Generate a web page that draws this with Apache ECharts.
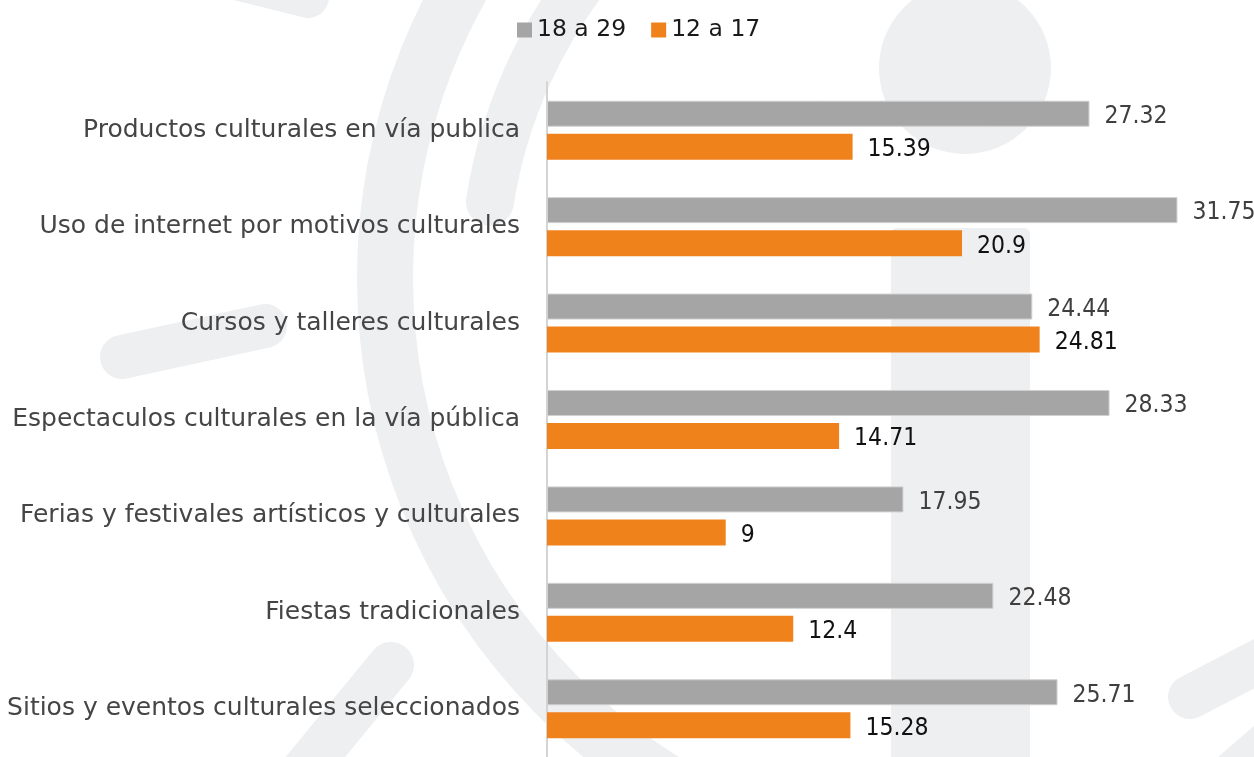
<!DOCTYPE html>
<html>
<head>
<meta charset="utf-8">
<title>Participación cultural por grupo de edad</title>
<script src="https://cdn.jsdelivr.net/npm/echarts@6/dist/echarts.min.js"></script>
<style>
  html, body { margin: 0; padding: 0; background: #ffffff; }
  #chart { width: 1254px; height: 757px; }
</style>
</head>
<body>
<div id="chart"></div>
<script>
// Categories, top to bottom
const categories = [
  'Productos culturales en vía publica',
  'Uso de internet por motivos culturales',
  'Cursos y talleres culturales',
  'Espectaculos culturales en la vía pública',
  'Ferias y festivales artísticos y culturales',
  'Fiestas tradicionales',
  'Sitios y eventos culturales seleccionados'
];

const seriesNames = ['18 a 29', '12 a 17'];

// Values for each age group, same order as categories
const valuesAdults = [27.32, 31.75, 24.44, 28.33, 17.95, 22.48, 25.71];
const valuesTeens  = [15.39, 20.9, 24.81, 14.71, 9, 12.4, 15.28];

const TEXT_FONT = '"DejaVu Sans", "Noto Sans", sans-serif';
const NUM_FONT = '"DejaVu Sans Condensed", Roboto, sans-serif';
const WATERMARK = '#eeeff1';

const chart = echarts.init(document.getElementById('chart'), null, { renderer: 'canvas' });

// Decorative light-grey emblem drawn behind the plot
const backdrop = [
  // large outer arc
  { type: 'circle', z: -10, silent: true,
    shape: { cx: 977, cy: 278, r: 592 },
    style: { fill: null, stroke: WATERMARK, lineWidth: 56 } },
  // inner arc with rounded end
  { type: 'arc', z: -10, silent: true,
    shape: { cx: 977, cy: 278, r: 493, startAngle: 3.297, endAngle: 4.4, clockwise: true },
    style: { fill: null, stroke: WATERMARK, lineWidth: 48, lineCap: 'round' } },
  // circle, top right
  { type: 'circle', z: -10, silent: true,
    shape: { cx: 965, cy: 68, r: 86 },
    style: { fill: WATERMARK } },
  // vertical bar
  { type: 'rect', z: -10, silent: true,
    shape: { x: 891, y: 228, width: 139, height: 600, r: [6, 6, 0, 70] },
    style: { fill: WATERMARK } },
  // short strokes
  { type: 'line', z: -10, silent: true,
    shape: { x1: 200, y1: -30, x2: 308, y2: -3 },
    style: { stroke: WATERMARK, lineWidth: 42, lineCap: 'round' } },
  { type: 'line', z: -10, silent: true,
    shape: { x1: 122, y1: 357, x2: 265, y2: 326 },
    style: { stroke: WATERMARK, lineWidth: 44, lineCap: 'round' } },
  { type: 'line', z: -10, silent: true,
    shape: { x1: 391, y1: 665, x2: 280, y2: 800 },
    style: { stroke: WATERMARK, lineWidth: 46, lineCap: 'round' } },
  { type: 'line', z: -10, silent: true,
    shape: { x1: 1190, y1: 697, x2: 1300, y2: 640 },
    style: { stroke: WATERMARK, lineWidth: 44, lineCap: 'round' } },
  { type: 'polygon', z: -10, silent: true,
    shape: { points: [[1218, 757], [1254, 726], [1254, 757]] },
    style: { fill: WATERMARK } }
];

chart.setOption({
  backgroundColor: '#ffffff',
  animation: false,
  graphic: { elements: backdrop },
  legend: {
    data: seriesNames,
    top: 13,
    left: 512,
    icon: 'rect',
    itemWidth: 15,
    itemHeight: 15,
    itemGap: 25,
    itemStyle: { borderWidth: 0 },
    textStyle: { fontFamily: TEXT_FONT, fontSize: 23.5, color: '#1a1a1a' }
  },
  grid: { left: 547, right: 12, top: 82, height: 680, containLabel: false },
  xAxis: {
    type: 'value',
    min: 0,
    max: 35,
    show: false
  },
  yAxis: {
    type: 'category',
    data: categories,
    inverse: true,
    axisLine: { show: true, lineStyle: { color: '#d4d4d4', width: 2 } },
    axisTick: { show: false },
    axisLabel: {
      fontFamily: TEXT_FONT, fontSize: 25, color: '#454545', margin: 27,
      padding: [3, 0, 0, 0]
    }
  },
  series: [
    {
      name: seriesNames[0],
      type: 'bar',
      data: valuesAdults,
      barWidth: 26,
      barGap: '27%',
      itemStyle: { color: '#a5a5a5', borderColor: '#d0d0d0', borderWidth: 1 },
      label: { show: true, position: 'right', distance: 15, offset: [0, 3],
               fontFamily: NUM_FONT, fontSize: 24.5, color: '#3f3f3f' }
    },
    {
      name: seriesNames[1],
      type: 'bar',
      data: valuesTeens,
      barWidth: 26,
      barGap: '27%',
      itemStyle: { color: '#f0821c' },
      label: { show: true, position: 'right', distance: 15, offset: [0, 3],
               fontFamily: NUM_FONT, fontSize: 24.5, color: '#111111' }
    }
  ]
});
</script>
</body>
</html>
